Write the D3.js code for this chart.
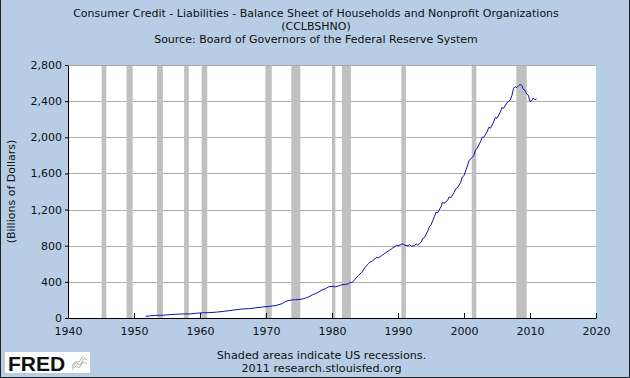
<!DOCTYPE html>
<html><head><meta charset="utf-8">
<script src="https://cdn.jsdelivr.net/npm/d3@7/dist/d3.min.js"></script>
<style>body{margin:0;padding:0;background:#fff}svg{display:block}</style>
</head><body>
<script>
const titleLines = ["Consumer Credit - Liabilities - Balance Sheet of Households and Nonprofit Organizations","(CCLBSHNO)","Source: Board of Governors of the Federal Reserve System"];
const yLabel = "(Billions of Dollars)";
const footerLines = ["Shaded areas indicate US recessions.","2011 research.stlouisfed.org"];
const xTicks = [1940,1950,1960,1970,1980,1990,2000,2010,2020];
const yTicks = [0,400,800,1200,1600,2000,2400,2800];
const recessionStart = [1945.1,1948.87,1953.5,1957.6,1960.25,1969.9,1973.83,1980.0,1981.5,1990.5,2001.17,2007.92];
const recessionEnd   = [1945.8,1949.8,1954.37,1958.3,1961.1,1970.87,1975.2,1980.5,1982.87,1991.2,2001.87,2009.5];
const dates = [1951.75,1952.5,1953.5,1954.5,1955.5,1956.5,1957.5,1958.5,1959.5,1960.5,1961.5,1962.5,1963.5,1964.5,1965.5,1966.5,1967.5,1968.5,1969.5,1970.5,1971.5,1972.5,
 1973.0,1973.5,1974.0,1974.5,1975.0,1975.5,1976.0,1976.5,1977.0,1977.5,1978.0,1978.5,1979.0,1979.5,1980.0,1980.5,1981.0,1981.5,1982.0,1982.5,1982.75,
 1983.0,1983.5,1984.0,1984.5,1985.0,1985.5,1985.75,1986.0,1986.5,1986.75,1987.0,1987.5,1988.0,1988.5,1989.0,1989.5,1989.75,1990.0,1990.5,1990.75,
 1991.0,1991.5,1991.75,1992.0,1992.5,1992.75,1993.0,1993.5,1993.75,1994.0,1994.5,1994.75,1995.0,1995.5,1995.75,1996.0,1996.5,1996.75,1997.0,1997.5,1997.75,
 1998.0,1998.5,1998.75,1999.0,1999.5,1999.75,2000.0,2000.5,2000.75,2001.0,2001.5,2001.75,2002.0,2002.5,2002.75,2003.0,2003.5,2003.75,2004.0,2004.5,2004.75,
 2005.0,2005.5,2005.75,2006.0,2006.5,2006.75,2007.0,2007.25,2007.5,2007.75,2008.0,2008.25,2008.5,2008.75,2009.0,2009.25,2009.5,2009.75,2010.0,2010.25,2010.5,2010.75,2011.0];
const values = [18,24,30,31,38,42,45,45,53,58,60,65,73,82,92,100,104,113,122,128,138,160,
 185,195,200,203,205,210,220,235,255,270,290,310,325,345,350,345,355,368,372,380,395,
 390,430,470,505,560,600,620,625,655,670,665,690,715,740,765,790,805,800,815,820,
 805,800,812,795,800,820,805,840,880,890,960,1010,1030,1120,1170,1165,1230,1280,1270,1300,1340,
 1330,1390,1430,1440,1500,1560,1575,1680,1740,1760,1800,1860,1880,1950,2000,2000,2060,2110,2100,2170,2220,
 2210,2280,2330,2320,2380,2400,2410,2460,2540,2560,2550,2570,2585,2575,2530,2520,2480,2465,2395,2405,2435,2415,2425];

const W=630,H=378;
const m={left:68,right:34,top:65,bottom:60};
const svg=d3.select("body").append("svg").attr("width",W).attr("height",H);
const font="DejaVu Sans, Verdana, sans-serif";
svg.append("rect").attr("width",W).attr("height",H).attr("fill","#b6cde5");
// border
svg.append("path").attr("d",`M0.5,0 V${H-0.5} H${W-0.5} V0`).attr("fill","none").attr("stroke","#222").attr("stroke-width",1);

const x=d3.scaleLinear().domain([1940,2020]).range([m.left,W-m.right]);
const y=d3.scaleLinear().domain([0,2800]).range([H-m.bottom,m.top]);

svg.append("rect").attr("x",x(1940)).attr("y",y(2800)).attr("width",x(2020)-x(1940)).attr("height",y(0)-y(2800)).attr("fill","#fff");

// gridlines
svg.append("g").selectAll("line").data(yTicks.filter(d=>d>0)).join("line")
 .attr("x1",x(1940)).attr("x2",x(2020)).attr("y1",d=>Math.round(y(d))+0.5).attr("y2",d=>Math.round(y(d))+0.5)
 .attr("stroke",d=>d===2800?"#a8a8a8":"#b0b0b0").attr("stroke-width",1);

// recessions
svg.append("g").selectAll("rect").data(recessionStart.map((s,i)=>[s,recessionEnd[i]])).join("rect")
 .attr("x",d=>x(d[0])).attr("width",d=>x(d[1])-x(d[0])).attr("y",y(2800)+1).attr("height",y(0)-y(2800)-1)
 .attr("fill","#c0c0c0");

// line
const line=d3.line().x((d,i)=>x(d)).y((d,i)=>y(values[i]));
svg.append("path").datum(dates).attr("d",line).attr("fill","none").attr("stroke","#1010b0").attr("stroke-width",1);

// axes
const xa=svg.append("g").attr("transform",`translate(0,${y(0)})`)
 .call(d3.axisBottom(x).tickValues(xTicks).tickFormat(d3.format("d")).tickSizeInner(-5).tickSizeOuter(0).tickPadding(9));
xa.select(".domain").attr("stroke","#000");
xa.selectAll(".tick line").attr("stroke","#000");
xa.selectAll("text").attr("font-family",font).attr("font-size",11).attr("fill","#111");

const ya=svg.append("g").attr("transform",`translate(${x(1940)},0)`)
 .call(d3.axisLeft(y).tickValues(yTicks).tickFormat(d3.format(",")).tickSizeInner(3).tickSizeOuter(0).tickPadding(3));
ya.select(".domain").attr("stroke","#000");
ya.selectAll(".tick line").attr("stroke","#000");
ya.selectAll("text").attr("font-family",font).attr("font-size",11).attr("fill","#111");

// titles
svg.append("g").selectAll("text").data(titleLines).join("text")
 .attr("x",316).attr("y",(d,i)=>17.3+i*13).attr("text-anchor","middle")
 .attr("font-family",font).attr("font-size",11).attr("fill","#111").text(d=>d);

svg.append("text").attr("transform",`translate(15,${(y(0)+y(2800))/2}) rotate(-90)`).attr("text-anchor","middle")
 .attr("font-family",font).attr("font-size",11).attr("fill","#111").text(yLabel);

svg.append("g").selectAll("text").data(footerLines).join("text")
 .attr("x",321.5).attr("y",(d,i)=>359+i*13.3).attr("text-anchor","middle")
 .attr("font-family",font).attr("font-size",11.2).attr("fill","#111").text(d=>d);

// FRED logo
const lg=svg.append("g");
lg.append("rect").attr("x",5).attr("y",352).attr("width",85).attr("height",21).attr("fill","#fff");
lg.append("text").attr("x",8).attr("y",371).attr("font-family","Liberation Sans, Arial, sans-serif").attr("font-weight","bold")
 .attr("font-size",21).attr("fill","#111").text("FRED");
lg.append("path").attr("d","M72,370 L76,366 L79,368 L83,362 L87,364 M72,368 L76,363 L80,365 L84,358 L87,360 M72,366 L75,362 L79,362 L83,356")
 .attr("fill","none").attr("stroke","#999").attr("stroke-width",0.8);
</script>
</body></html>
